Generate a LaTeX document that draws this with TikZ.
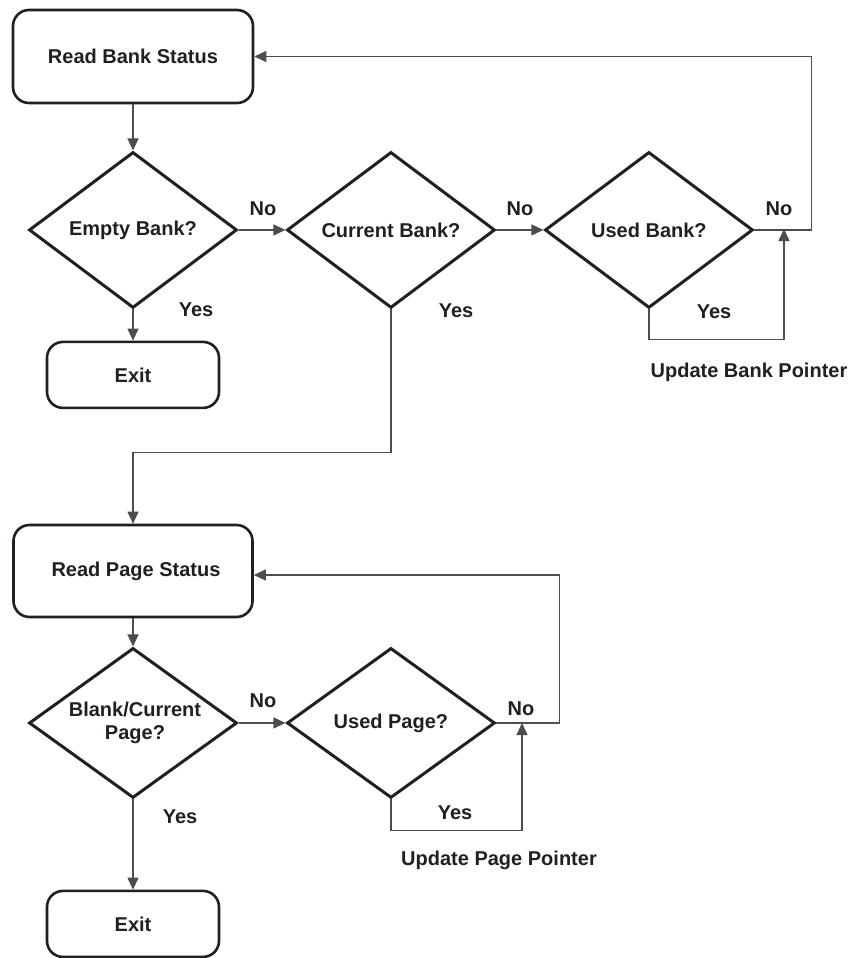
\documentclass[tikz,border=0pt]{standalone}
\usepackage{fontspec}
\setmainfont{Liberation Sans}
\usetikzlibrary{shapes.geometric,arrows.meta}

\definecolor{ink}{HTML}{231F20}
\definecolor{wire}{HTML}{4D4D4D}

\tikzstyle{startstop} = [rectangle, rounded corners=16pt, line width=2.6pt, draw=ink, text=ink, text centered, font=\fontsize{20}{23}\selectfont\bfseries]
\tikzstyle{decision} = [diamond, aspect=1.4, minimum width=208pt, minimum height=156pt, inner sep=0pt, line width=3pt, draw=ink, text=ink, align=center, font=\fontsize{20}{23}\selectfont\bfseries]
\tikzstyle{arrow} = [line width=1.2pt, draw=wire, -{Triangle[length=12pt,width=11pt]}]
\tikzstyle{lbl} = [text=ink, font=\fontsize{20}{23}\selectfont\bfseries]

\begin{document}
\begin{tikzpicture}

	\def \colshift {229.5pt}
	
	\useasboundingbox (0,0) rectangle (851pt,-958pt);
	
	% bank part
	\node (readbank) [startstop, minimum width=240pt, minimum height=93pt] at (133pt,-56.5pt) {Read Bank Status};
	\node (empty) [decision, below of=readbank, yshift=-145pt] {Empty Bank?};
	\node (current) [decision, right of=empty, xshift=\colshift] {Current Bank?};
	\node (used) [decision, right of=current, xshift=\colshift] {Used Bank?};
	\node (exitbank) [startstop, minimum width=172pt, minimum height=66pt, below of=empty, yshift=-116.5pt] {Exit};
	\coordinate (bankjoin) at (784pt,-229pt);
	
	% page part
	\node (readpage) [startstop, minimum width=239pt, minimum height=92pt] at (133pt,-571pt) {\hspace{6pt}Read Page Status};
	\node (blank) [decision, minimum height=150pt, below of=readpage, yshift=-123.5pt] {\hspace{4pt}Blank/Current\\\hspace{4pt}Page?};
	\node (usedpage) [decision, minimum height=150pt, right of=blank, xshift=\colshift] {Used Page?};
	\node (exitpage) [startstop, minimum width=172pt, minimum height=66pt, below of=blank, yshift=-172.5pt] {Exit};
	\coordinate (pagejoin) at (522pt,-723pt);
	
	% labels
	\node (no1) [lbl] at (263pt,-209pt) {No};
	\node (yes1) [lbl] at (196pt,-310pt) {Yes};
	\node (no2) [lbl] at (520pt,-209pt) {No};
	\node (yes2) [lbl] at (456pt,-311pt) {Yes};
	\node (no3) [lbl] at (779pt,-209pt) {No};
	\node (yes3) [lbl] at (714pt,-312pt) {Yes};
	\node (bankptr) [lbl] at (749pt,-372pt) {Update Bank Pointer};
	\node (no4) [lbl] at (263pt,-701pt) {No};
	\node (yes4) [lbl] at (180pt,-817pt) {Yes};
	\node (no5) [lbl] at (521pt,-709pt) {No};
	\node (yes5) [lbl] at (455pt,-813pt) {Yes};
	\node (pageptr) [lbl] at (499pt,-860pt) {Update Page Pointer};
	
	%arrow
	\draw [arrow] (readbank) -- (empty);
	\draw [arrow] (empty) -- (exitbank);
	\draw [arrow] (empty) -- (current);
	\draw [arrow] (current) -- (used);
	\draw [arrow] (used.east) -- ++(57pt,0) |- (readbank.east);
	\draw [arrow] (used.south) -- ++(0,-30pt) -| (bankjoin);
	\draw [arrow] (current.south) -- ++(0,-143pt) -| (readpage.north);
	
	\draw [arrow] (readpage) -- (blank);
	\draw [arrow] (blank) -- (exitpage);
	\draw [arrow] (blank) -- (usedpage);
	\draw [arrow] (usedpage.east) -- ++(63pt,0) |- ([yshift=-4pt]readpage.east);
	\draw [arrow] (usedpage.south) -- ++(0,-31pt) -| (pagejoin);
	
\end{tikzpicture}
\end{document}
